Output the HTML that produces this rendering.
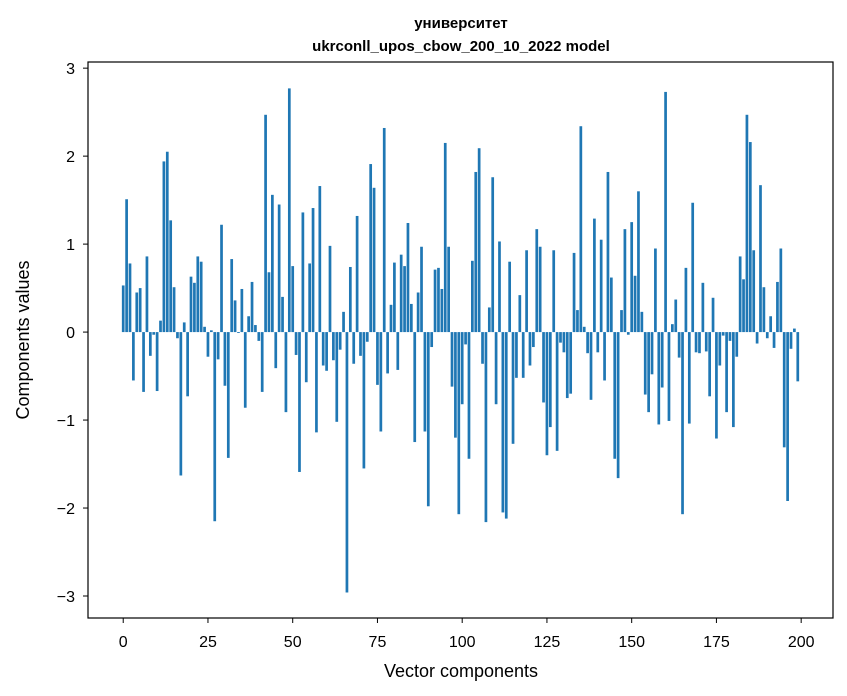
<!DOCTYPE html>
<html><head><meta charset="utf-8"><style>
body{margin:0;background:#fff;}
svg{display:block;font-family:"Liberation Sans","DejaVu Sans",sans-serif;}
</style></head><body>
<svg id="chart" width="847" height="696" viewBox="0 0 847 696">
<rect width="847" height="696" fill="#fff"/>
<text x="461" y="28" text-anchor="middle" font-size="15" font-weight="bold">университет</text>
<text x="461" y="51" text-anchor="middle" font-size="15" font-weight="bold">ukrconll_upos_cbow_200_10_2022 model</text>
<g id="bars"></g>
<g id="axes"></g>
<rect x="88" y="62" width="745" height="556" fill="none" stroke="#000" stroke-width="1.2"/>
<text x="461" y="677" text-anchor="middle" font-size="18">Vector components</text>
<text transform="translate(29,340) rotate(-90)" text-anchor="middle" font-size="18">Components values</text>
</svg>
<script>
const values = [0.53,1.51,0.78,-0.55,0.45,0.50,-0.68,0.86,-0.27,-0.03,-0.67,0.13,1.94,2.05,1.27,0.51,-0.07,-1.63,0.11,-0.73,0.63,0.56,0.86,0.80,0.06,
-0.28,0.02,-2.15,-0.31,1.22,-0.61,-1.43,0.83,0.36,-0.01,0.49,-0.86,0.18,0.57,0.08,-0.10,-0.68,2.47,0.68,1.56,-0.41,1.45,0.40,-0.91,2.77,
0.75,-0.26,-1.59,1.36,-0.57,0.78,1.41,-1.14,1.66,-0.38,-0.44,0.98,-0.32,-1.02,-0.20,0.23,-2.96,0.74,-0.36,1.32,-0.27,-1.55,-0.11,1.91,1.64,
-0.60,-1.13,2.32,-0.47,0.31,0.79,-0.43,0.88,0.75,1.24,0.32,-1.25,0.45,0.97,-1.13,-1.98,-0.17,0.71,0.73,0.49,2.15,0.97,-0.62,-1.20,-2.07,
-0.82,-0.14,-1.44,0.81,1.82,2.09,-0.36,-2.16,0.28,1.76,-0.82,1.03,-2.05,-2.12,0.80,-1.27,-0.52,0.42,-0.52,0.93,-0.38,-0.17,1.17,0.97,-0.80,
-1.40,-1.08,0.93,-1.35,-0.12,-0.23,-0.75,-0.70,0.90,0.25,2.34,0.06,-0.24,-0.77,1.29,-0.23,1.05,-0.55,1.82,0.62,-1.44,-1.66,0.25,1.17,-0.03,
1.25,0.64,1.60,0.23,-0.71,-0.91,-0.48,0.95,-1.05,-0.63,2.73,-1.01,0.09,0.37,-0.29,-2.07,0.73,-1.04,1.47,-0.23,-0.24,0.56,-0.22,-0.73,0.39,
-1.21,-0.38,-0.04,-0.91,-0.10,-1.08,-0.28,0.86,0.60,2.47,2.16,0.93,-0.13,1.67,0.51,-0.07,0.18,-0.18,0.57,0.95,-1.31,-1.92,-0.19,0.04,-0.56];
const xTicks = [0,25,50,75,100,125,150,175,200];
const yTicks = [-3,-2,-1,0,1,2,3];
const yTickLabels = ["\u22123","\u22122","\u22121","0","1","2","3"];

const X0=88,X1=833,Y0=62,Y1=618;
const xMin=-10.39,xMax=209.39,yMin=-3.25,yMax=3.07;
function xs(v){return X0+(v-xMin)/(xMax-xMin)*(X1-X0);}
function ys(v){return Y1-(v-yMin)/(yMax-yMin)*(Y1-Y0);}
const NS="http://www.w3.org/2000/svg";
const gb=document.getElementById('bars');
values.forEach((v,i)=>{
  const r=document.createElementNS(NS,'rect');
  
  
  const xl=xs(i-0.4), xr=xs(i+0.4);
  const y=Math.min(ys(v),ys(0)), h=Math.abs(ys(v)-ys(0));
  r.setAttribute('x',xl);r.setAttribute('width',xr-xl);
  r.setAttribute('y',y);r.setAttribute('height',h);
  r.setAttribute('fill','#1f77b4');
  gb.appendChild(r);
});
const ga=document.getElementById('axes');
xTicks.forEach(t=>{
  const l=document.createElementNS(NS,'line');
  
  
  l.setAttribute('x1',xs(t));l.setAttribute('x2',xs(t));l.setAttribute('y1',Y1);l.setAttribute('y2',Y1+5);
  l.setAttribute('stroke','#000');
  ga.appendChild(l);
  const tx=document.createElementNS(NS,'text');
  
  
  tx.setAttribute('x',xs(t));tx.setAttribute('y',Y1+29);
  tx.setAttribute('text-anchor','middle');tx.setAttribute('font-size','16');
  tx.textContent=t;
  ga.appendChild(tx);
});
yTicks.forEach((t,i)=>{
  const l=document.createElementNS(NS,'line');
  
  
  l.setAttribute('x1',X0-5);l.setAttribute('x2',X0);l.setAttribute('y1',ys(t));l.setAttribute('y2',ys(t));
  l.setAttribute('stroke','#000');
  ga.appendChild(l);
  const tx=document.createElementNS(NS,'text');
  
  
  tx.setAttribute('x',X0-13);tx.setAttribute('y',ys(t)+6);
  tx.setAttribute('text-anchor','end');tx.setAttribute('font-size','16');
  tx.textContent=yTickLabels[i];
  ga.appendChild(tx);
});
</script>
</body></html>
